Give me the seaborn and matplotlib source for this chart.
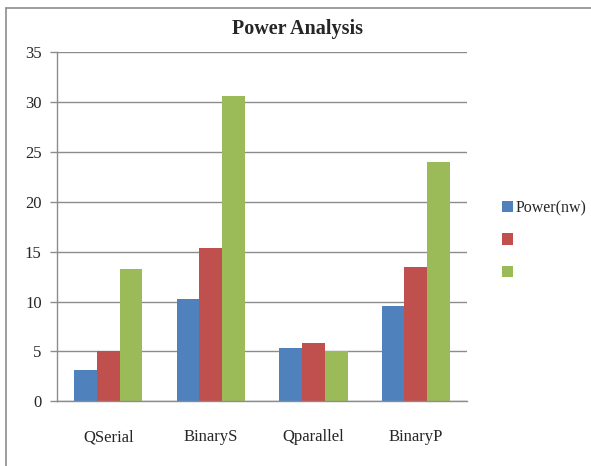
import pandas as pd
import numpy as np
import matplotlib
matplotlib.use("Agg")
import matplotlib.pyplot as plt
from matplotlib.lines import Line2D
import seaborn as sns

# values
categories = ["QSerial", "BinaryS", "Qparallel", "BinaryP"]
series_names = ["Power(nw)", " ", "  "]
power_nw = [3.1, 10.3, 5.3, 9.55]
series_2 = [5.0, 15.4, 5.85, 13.45]
series_3 = [13.25, 30.6, 5.0, 23.95]
colors = ["#4F81BD", "#C0504D", "#9BBB59"]

df = pd.DataFrame({
    "Category": categories * 3,
    "Series": np.repeat(series_names, len(categories)),
    "Value": power_nw + series_2 + series_3,
})

sns.set_style("white")
plt.rcParams["font.family"] = ["Liberation Serif", "DejaVu Serif"]

fig = plt.figure(figsize=(5.91, 4.66), dpi=100)
ax = fig.add_axes([0.0964, 0.139, 0.694, 0.749])

sns.barplot(data=df, x="Category", y="Value", hue="Series", order=categories,
            hue_order=series_names, palette=colors, width=0.667, saturation=1,
            errorbar=None, linewidth=0, ax=ax)

ax.set_ylim(0, 35)
ax.set_xlim(-0.5, 3.5)
ax.set_yticks(range(0, 36, 5))
ax.yaxis.grid(True, color="#8c8c8c", linewidth=1)
ax.set_axisbelow(True)
ax.set_xlabel("")
ax.set_ylabel("")

for side in ["top", "right"]:
    ax.spines[side].set_visible(False)
for side in ["left", "bottom"]:
    ax.spines[side].set_color("#8c8c8c")
    ax.spines[side].set_linewidth(1)

# excel-style ticks: labels centred, marks between categories
ax.set_xticks(np.arange(-0.5, 4.0, 1.0), minor=True)
ax.tick_params(axis="x", which="major", length=0, pad=20, labelsize=12)
ax.tick_params(axis="x", which="minor", length=5, color="#8c8c8c", width=1)
ax.tick_params(axis="y", length=5, color="#8c8c8c", width=1, pad=6, labelsize=12,
               left=True, direction="out")

fig.text(297 / 591, 1 - 29 / 466, "Power Analysis", fontsize=14.5, fontweight="bold",
         ha="center", va="center")

handles, labels = ax.get_legend_handles_labels()
ax.legend(handles, series_names, loc="center left", bbox_to_anchor=(1.05, 0.46),
          frameon=False, handlelength=0.7, handleheight=0.7, handletextpad=0.15,
          labelspacing=1.05, fontsize=11.5)

# chart frame (top and left edges visible)
fig.add_artist(Line2D([6 / 591, 1], [1 - 8 / 466, 1 - 8 / 466], color="#8c8c8c", lw=1.2))
fig.add_artist(Line2D([6 / 591, 6 / 591], [0, 1 - 8 / 466], color="#8c8c8c", lw=1.2))

fig.savefig("out.png", dpi=100)
